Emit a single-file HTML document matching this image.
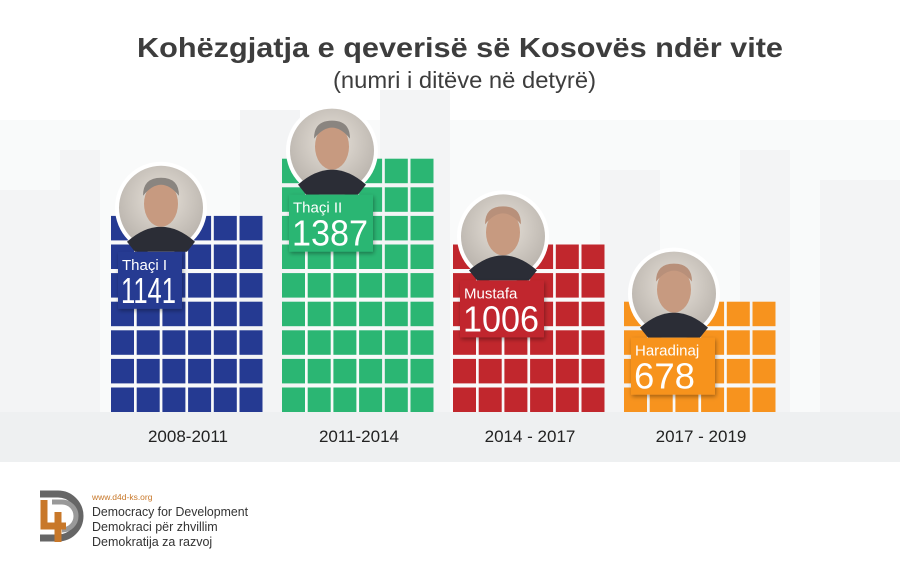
<!DOCTYPE html>
<html><head><meta charset="utf-8"><style>
body{margin:0;width:900px;height:556px;overflow:hidden;background:#fff;font-family:"Liberation Sans",sans-serif}
</style></head><body>
<svg width="900" height="556" viewBox="0 0 900 556">
<defs>
<radialGradient id="ph" cx="50%" cy="40%" r="60%"><stop offset="0" stop-color="#e8e2da"/><stop offset="1" stop-color="#b9b3ac"/></radialGradient>
<filter id="sh" x="-20%" y="-20%" width="150%" height="150%"><feDropShadow dx="1" dy="2" stdDeviation="2" flood-opacity="0.35"/></filter>
</defs>
<g fill="#f3f4f5">
<rect x="0" y="120" width="900" height="342" fill="#f9fafa"/>
<rect x="0" y="190" width="60" height="272"/><rect x="60" y="150" width="40" height="312"/>
<rect x="240" y="110" width="60" height="352"/><rect x="380" y="90" width="70" height="372"/>
<rect x="600" y="170" width="60" height="292"/><rect x="740" y="150" width="50" height="312"/>
<rect x="820" y="180" width="80" height="282"/>
<rect x="0" y="412" width="900" height="50" fill="#eef0f1"/>
</g>
<text x="137" y="57" textLength="646" lengthAdjust="spacingAndGlyphs" font-size="28" font-weight="bold" fill="#3d3d3d">Kohëzgjatja e qeverisë së Kosovës ndër vite</text>
<text x="333" y="88" textLength="263" lengthAdjust="spacingAndGlyphs" font-size="23" fill="#3d3d3d">(numri i ditëve në detyrë)</text>
<g id="bars"></g>
<g>
<path d="M40 494 h18 a22 22 0 0 1 0 44 h-18" fill="none" stroke="#666" stroke-width="7"/>
<path d="M52 502 h10 a14 14 0 0 1 0 28" fill="none" stroke="#999" stroke-width="5"/>
<path d="M44 500 v26 h22 M58 512 v30" fill="none" stroke="#c8782a" stroke-width="7"/>
<text x="92" y="500" font-size="8.5" fill="#c8782a">www.d4d-ks.org</text>
<text x="92" y="516" font-size="12.5" textLength="156" lengthAdjust="spacingAndGlyphs" fill="#333">Democracy for Development</text>
<text x="92" y="531" font-size="12.5" fill="#333">Demokraci për zhvillim</text>
<text x="92" y="546" font-size="12.5" fill="#333">Demokratija za razvoj</text>
</g>
</svg>
<script>
const periods=["2008-2011","2011-2014","2014 - 2017","2017 - 2019"];
const names=["Thaçi I","Thaçi II","Mustafa","Haradinaj"];
const days=[1141,1387,1006,678];
const colors=["#253a92","#2bb673","#c1272d","#f7931e"];
const NS="http://www.w3.org/2000/svg";
const g=document.getElementById('bars');
const baseY=412,pitchY=28.6,cellH=24.5,pitchX=25.7,cellW=23,cols=6,x0=111,groupW=171;
function mk(t,a,p){const e=document.createElementNS(NS,t);for(const k in a)e.setAttribute(k,a[k]);(p||g).appendChild(e);return e;}
function rowsFor(v){return Math.round(v/155);}
days.forEach((v,i)=>{
  const gx=x0+i*groupW,rows=rowsFor(v);
  const grp=mk('g',{});
  
  
  for(let r=0;r<rows;r++)for(let c=0;c<cols;c++){
    const cell=mk('rect',{x:gx+c*pitchX,y:baseY-(r+1)*pitchY+(pitchY-cellH),width:cellW,height:cellH,fill:colors[i]},grp);
    
    
  }
  const top=baseY-rows*pitchY;
  const cx=gx+50,cy=top-4,R=46;
  const ph=mk('g',{},grp);
  
  
  mk('circle',{cx:cx,cy:cy,r:R,fill:'#fff'},ph);
  mk('circle',{cx:cx,cy:cy,r:R-4,fill:'url(#ph)'},ph);
  mk('path',{d:`M${cx-34} ${cy+R-12} q34 -30 68 0 l-8 10 h-52z`,fill:'#2b2d36'},ph);
  mk('ellipse',{cx:cx,cy:cy-4,rx:17,ry:23,fill:'#c79a80'},ph);
  mk('path',{d:`M${cx-18} ${cy-12} q18 -22 36 0 q0 -18 -18 -18 q-18 0 -18 18z`,fill:i==0||i==1?'#8a8580':'#b8907a'},ph);
  const bw=i==0?64:84;
  const bx=gx+7,by=cy+R-2;
  const lb=mk('g',{},grp);
  
  
  mk('rect',{x:bx,y:by,width:bw,height:57,fill:colors[i],filter:'url(#sh)'},lb);
  const t1=mk('text',{x:bx+4,y:by+18,'font-size':15,fill:'#fff'},lb);t1.textContent=names[i];
  const numW=String(days[i]).length===3?61:(i==0?55:76);
  const t2=mk('text',{x:bx+3,y:by+51,'font-size':36,fill:'#fff',textLength:numW,lengthAdjust:'spacingAndGlyphs'},lb);t2.textContent=days[i];
  const xl=mk('text',{x:gx+77,y:442,'text-anchor':'middle','font-size':17,fill:'#222'});
  
  
  xl.textContent=periods[i];
});
</script>
</body></html>
